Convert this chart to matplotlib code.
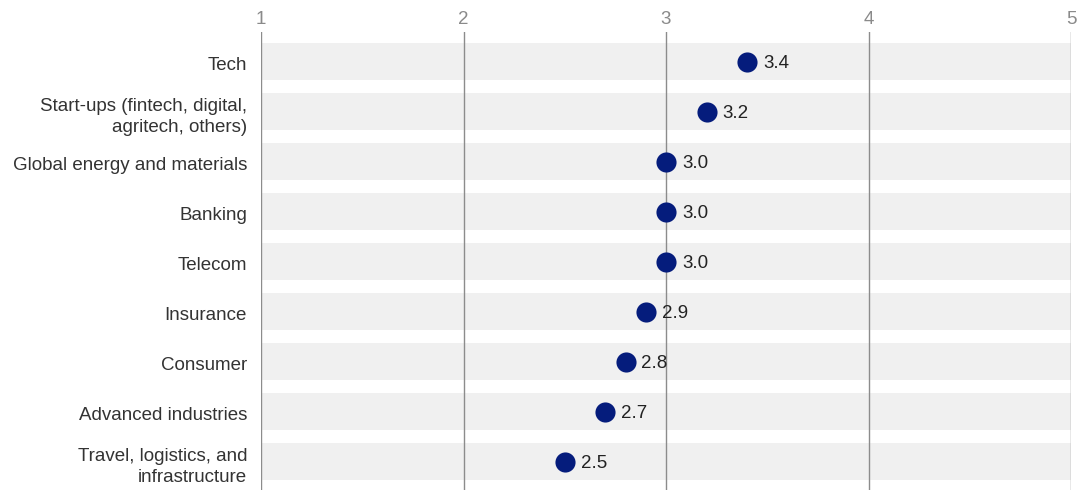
import matplotlib
matplotlib.use("Agg")
import matplotlib.pyplot as plt
import matplotlib.transforms as mtransforms

categories = ["Tech", "Start-ups (fintech, digital,\nagritech, others)", "Global energy and materials",
              "Banking", "Telecom", "Insurance", "Consumer", "Advanced industries",
              "Travel, logistics, and\ninfrastructure"]
values = [3.4, 3.2, 3.0, 3.0, 3.0, 2.9, 2.8, 2.7, 2.5]
ticks = [1, 2, 3, 4, 5]

plt.rcParams['font.family'] = ['Liberation Sans', 'DejaVu Sans']

W, H = 1079, 492
fig = plt.figure(figsize=(W/100, H/100), dpi=100)
ax = fig.add_axes([261/W, 1 - 490/H, (1071-261)/W, (490-32)/H])

n = len(categories)
pos = list(range(n))
ax.barh(pos, [ticks[-1]-ticks[0]]*n, left=ticks[0], height=0.74, color="#f0f0f0", zorder=1)
for t in ticks:
    ax.axvline(t, color="#8c8c8c", lw=1.0, zorder=2)
ax.scatter(values, pos, s=210, color="#051c7c", zorder=3, linewidths=0)
for v, p in zip(values, pos):
    ax.annotate(f"{v:.1f}", (v, p), xytext=(11.5, -1), textcoords="offset points",
                va="center", ha="left", fontsize=13.5, color="#222222", zorder=4)

ax.set_xlim(ticks[0], ticks[-1])
ax.set_ylim(8.56, -0.6)
ax.xaxis.tick_top()
ax.set_xticks(ticks)
ax.set_xticklabels([str(t) for t in ticks])
ax.tick_params(axis="x", length=0, pad=3, labelsize=13.5, labelcolor="#8a8a8a")
ax.set_yticks(pos)
ax.set_yticklabels(categories, fontsize=13.5, color="#333333", linespacing=1.3)
ax.tick_params(axis="y", length=0, pad=10)
off = mtransforms.ScaledTranslation(0, -1.5/100, fig.dpi_scale_trans)
for lbl in ax.get_yticklabels():
    lbl.set_transform(lbl.get_transform() + off)
for s in ax.spines.values():
    s.set_visible(False)

fig.savefig("out.png", dpi=100)
